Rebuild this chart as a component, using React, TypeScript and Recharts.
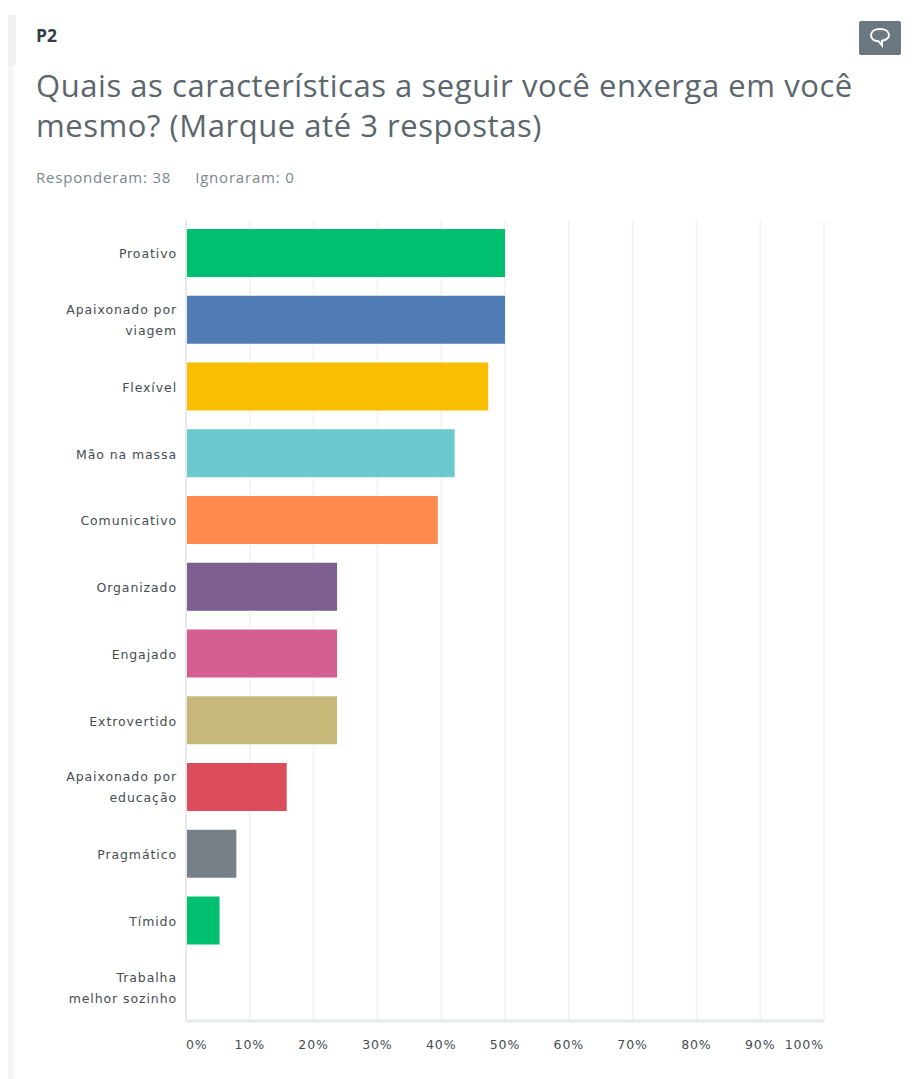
import React from 'react';
import { BarChart, Bar, XAxis, YAxis, CartesianGrid, Cell } from 'recharts';

const categories = [
  'Proativo',
  'Apaixonado por viagem',
  'Flexível',
  'Mão na massa',
  'Comunicativo',
  'Organizado',
  'Engajado',
  'Extrovertido',
  'Apaixonado por educação',
  'Pragmático',
  'Tímido',
  'Trabalha melhor sozinho',
];
const labelLines: Record<string, string[]> = {
  'Apaixonado por viagem': ['Apaixonado por', 'viagem'],
  'Apaixonado por educação': ['Apaixonado por', 'educação'],
  'Trabalha melhor sozinho': ['Trabalha', 'melhor sozinho'],
};
const percents = [50, 50, 47.37, 42.11, 39.47, 23.68, 23.68, 23.68, 15.79, 7.89, 5.26, 0];
const barColors = [
  '#00bf6f', '#507cb6', '#f9be00', '#6bc8cd', '#ff8b4f', '#7d5e90',
  '#d25f90', '#c7b879', '#dc4c5a', '#768086', '#00bf6f', '#507cb6',
];
const xTicks = [0, 10, 20, 30, 40, 50, 60, 70, 80, 90, 100];

const rows = categories.map((name, i) => ({ name, percent: percents[i] }));

const FONT = '"Open Sans", sans-serif';
const TICK_STYLE = { fontFamily: '"DejaVu Sans", sans-serif', fontSize: 12.5, letterSpacing: 0.9, fill: '#454d52' };

const CategoryTick = ({ x, y, payload }: any) => {
  const lines = labelLines[payload.value] ?? [payload.value];
  const firstDy = lines.length > 1 ? -6 : 5;
  return (
    <text x={x} y={y} textAnchor="end" {...TICK_STYLE}>
      {lines.map((line, i) => (
        <tspan key={line} x={x} dy={i === 0 ? firstDy : 21}>
          {line}
        </tspan>
      ))}
    </text>
  );
};

// 0% and 100% stay inside the plot edges, the others sit centred on their gridline
const PercentTick = ({ x, y, payload }: any) => {
  const anchor = payload.value === 0 ? 'start' : payload.value === 100 ? 'end' : 'middle';
  return (
    <text x={x} y={y} dy={4} textAnchor={anchor} {...TICK_STYLE}>
      {payload.value}%
    </text>
  );
};

const CommentIcon = () => (
  <div style={{ position: 'absolute', left: 859, top: 21, width: 42, height: 34, background: '#6b787f', borderRadius: 2 }}>
    <svg width={42} height={34} viewBox="0 0 42 34">
      <path
        d="M21 8c-5.5 0-9 2.6-9 6.2 0 3.4 3 5.8 7.4 6l3.6 4.2v-4.6c3.4-.8 7-2.6 7-5.6C30 10.600 26.500 8 21 8z"
        fill="none"
        stroke="#ffffff"
        strokeWidth={2}
      />
    </svg>
  </div>
);

export default function App() {
  return (
    <div style={{ position: 'absolute', left: 0, top: 0, width: 921, height: 1079, background: '#fff', overflow: 'hidden', fontFamily: FONT }}>
      <div style={{ position: 'absolute', left: 8, top: 15, width: 8, height: 50, background: '#f0f1f1' }} />
      <div style={{ position: 'absolute', left: 8, top: 65, width: 6, height: 1014, background: '#f5f6f6' }} />
      <div style={{ position: 'absolute', left: 36, top: 23, fontSize: 17.5, fontWeight: 700, color: '#333e48' }}>P2</div>
      <CommentIcon />
      <div style={{ position: 'absolute', left: 36, top: 65, width: 830, fontSize: 31, letterSpacing: 0.55, lineHeight: '40px', color: '#5b666d' }}>
        Quais as características a seguir você enxerga em você mesmo? (Marque até 3 respostas)
      </div>
      <div style={{ position: 'absolute', left: 36, top: 167, fontSize: 15, letterSpacing: 0.8, color: '#7a868c' }}>
        Responderam: 38
        <span style={{ marginLeft: 24 }}>Ignoraram: 0</span>
      </div>
      <div style={{ position: 'absolute', left: 0, top: 0 }}>
        <BarChart
          width={921}
          height={1079}
          data={rows}
          layout="vertical"
          margin={{ top: 220, right: 97, bottom: 0, left: 0 }}
        >
          <CartesianGrid horizontal={false} stroke="#f1f2f2" strokeWidth={1.5} />
          <XAxis
            type="number"
            domain={[0, 100]}
            ticks={xTicks}
            interval={0}
            axisLine={{ stroke: '#e8e9e9', strokeWidth: 3 }}
            tickLine={false}
            tick={<PercentTick />}
            tickMargin={18}
            height={58}
          />
          <YAxis
            type="category"
            dataKey="name"
            width={186}
            interval={0}
            axisLine={{ stroke: '#e8e9e9', strokeWidth: 2 }}
            tickLine={false}
            tick={<CategoryTick />}
            tickMargin={3}
          />
          <Bar dataKey="percent" barSize={48} isAnimationActive={false}>
            {rows.map((row, i) => (
              <Cell key={row.name} fill={barColors[i]} />
            ))}
          </Bar>
        </BarChart>
      </div>
    </div>
  );
}
